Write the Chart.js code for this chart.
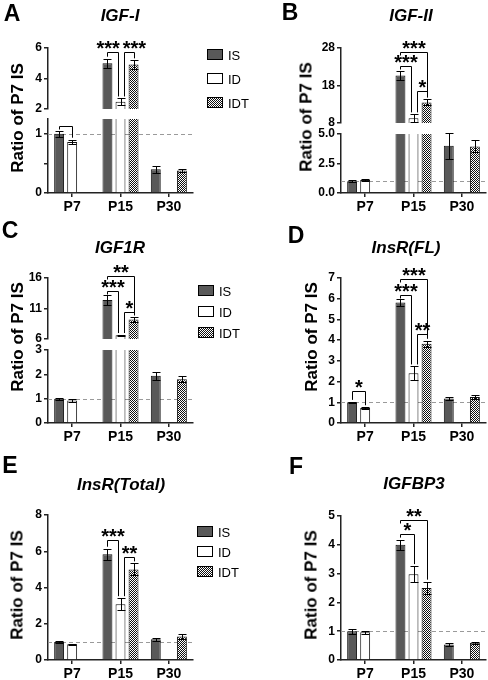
<!DOCTYPE html>
<html>
<head>
<meta charset="utf-8">
<script src="https://cdn.jsdelivr.net/npm/chart.js@4.4.1/dist/chart.umd.min.js"></script>
<style>
  html, body { margin: 0; padding: 0; background: #fff; }
  #fig { position: relative; width: 488px; height: 680px; overflow: hidden;
         font-family: "Liberation Sans", Arial, sans-serif; color: #000; }
  #fig canvas { position: absolute; }
  .txt { position: absolute; white-space: nowrap; line-height: 1; transform: translate(-50%, -50%); }
  .letter { font-weight: bold; font-size: 23px; }
  .gene { font-weight: bold; font-style: italic; font-size: 17px; }
  .ytitle { font-weight: bold; font-size: 17px; transform: translate(-50%, -50%) rotate(-90deg); }
  .legtxt { position: absolute; font-size: 13px; line-height: 1; transform: translateY(-50%); }
  .sw { position: absolute; width: 14px; height: 9px; border: 1px solid #000; }
</style>
</head>
<body>
<div id="fig"></div>
<script>
const categories = ['P7', 'P15', 'P30'];
const seriesNames = ['IS', 'ID', 'IDT'];
const refValue = 1;

// rows = IS, ID, IDT ; columns = P7, P15, P30
// A  IGF-I
const igf1Mean = [[1.0, 5.0, 0.40], [0.86, 2.47, null], [null, 4.92, 0.38]];
const igf1Sem = [[0.05, 0.3, 0.06], [0.04, 0.22, null], [null, 0.27, 0.03]];
const igf1TopTicks = [2, 4, 6];
const igf1LowTicks = [0, 0.5, 1];
const igf1LowLabels = ['0', '', '1'];
// [category, from series, to series, bracket height, label]
const igf1Sig = [[0, 0, 1, 1.14, ''], [1, 0, 1, 5.72, '***'], [1, 1, 2, 5.72, '***']];

// B  IGF-II
const igf2Mean = [[1.0, 20.7, 4.0], [1.1, 9.3, null], [null, 13.5, 3.95]];
const igf2Sem = [[0.1, 1.2, 1.1], [0.06, 1.0, null], [null, 0.8, 0.5]];
const igf2TopTicks = [8, 18, 28];
const igf2LowTicks = [0, 2.5, 5];
const igf2LowLabels = ['0.0', '2.5', '5.0'];
const igf2Sig = [[1, 0, 2, 26.9, '***'], [1, 0, 1, 23.3, '***'], [1, 1, 2, 16.5, '*']];

// C  IGF1R
const igf1rMean = [[1.0, 12.4, 1.94], [0.92, 6.6, null], [null, 9.2, 1.8]];
const igf1rSem = [[0.04, 0.8, 0.17], [0.05, 0.05, null], [null, 0.45, 0.13]];
const igf1rTopTicks = [6, 11, 16];
const igf1rLowTicks = [0, 1, 2, 3];
const igf1rSig = [[1, 0, 2, 16.25, '**'], [1, 0, 1, 13.9, '***'], [1, 1, 2, 10.5, '*']];

// D  InsR(FL)
const insrFlMean = [[1.0, 5.82, 1.18], [0.73, 2.4, null], [null, 3.83, 1.26]];
const insrFlSem = [[0.02, 0.15, 0.07], [0.03, 0.33, null], [null, 0.15, 0.11]];
const insrFlTicks = [0, 1, 2, 3, 4, 5, 6, 7];
const insrFlSig = [[0, 0, 1, 1.55, '*'], [1, 0, 2, 6.97, '***'], [1, 0, 1, 6.2, '***'], [1, 1, 2, 4.28, '**']];

// E  InsR(Total)
const insrTotMean = [[1.0, 5.83, 1.15], [0.87, 3.08, null], [null, 5.0, 1.3]];
const insrTotSem = [[0.04, 0.31, 0.08], [0.03, 0.33, null], [null, 0.33, 0.13]];
const insrTotTicks = [0, 2, 4, 6, 8];
const insrTotSig = [[1, 0, 1, 6.6, '***'], [1, 1, 2, 5.68, '**']];

// F  IGFBP3
const igfbp3Mean = [[1.0, 4.0, 0.54], [0.96, 2.98, null], [null, 2.5, 0.6]];
const igfbp3Sem = [[0.09, 0.18, 0.04], [0.06, 0.28, null], [null, 0.22, 0.04]];
const igfbp3Ticks = [0, 1, 2, 3, 4, 5];
const igfbp3Sig = [[1, 0, 2, 4.86, '**'], [1, 0, 1, 4.36, '*']];

Chart.defaults.font.family = '"Liberation Sans", Arial, sans-serif';

const fig = document.getElementById('fig');

// checkered fill for IDT
const tile = document.createElement('canvas');
tile.width = 2; tile.height = 2;
const tc = tile.getContext('2d');
tc.fillStyle = '#fff'; tc.fillRect(0, 0, 2, 2);
tc.fillStyle = '#111'; tc.fillRect(0, 0, 1, 1); tc.fillRect(1, 1, 1, 1);
const checker = tc.createPattern(tile, 'repeat');
const fills = ['#595959', '#ffffff', checker];

const panels = [
    { letter: 'A', gene: 'IGF-I', col: 0, mean: igf1Mean, sem: igf1Sem, sig: igf1Sig,
      segs: [{ top: 48, bottom: 109, min: 2, max: 6, ticks: igf1TopTicks },
             { top: 119, bottom: 193, min: 0, max: 1.25, ticks: igf1LowTicks, labels: igf1LowLabels }],
      letterAt: [12, 13], geneAt: [120, 15], yTitleAt: [17, 118], legend: [207, 49, 24] },
    { letter: 'B', gene: 'IGF-II', col: 1, mean: igf2Mean, sem: igf2Sem, sig: igf2Sig,
      segs: [{ top: 48, bottom: 123, min: 8, max: 28, ticks: igf2TopTicks },
             { top: 134, bottom: 193, min: 0, max: 5, ticks: igf2LowTicks, labels: igf2LowLabels }],
      letterAt: [290, 12], geneAt: [411, 15], yTitleAt: [306, 117] },
    { letter: 'C', gene: 'IGF1R', col: 0, mean: igf1rMean, sem: igf1rSem, sig: igf1rSig,
      segs: [{ top: 278, bottom: 339, min: 6, max: 16, ticks: igf1rTopTicks },
             { top: 350, bottom: 423, min: 0, max: 3, ticks: igf1rLowTicks }],
      letterAt: [10, 230], geneAt: [120, 247], yTitleAt: [17, 337], legend: [198, 285, 21] },
    { letter: 'D', gene: 'InsR(FL)', col: 1, mean: insrFlMean, sem: insrFlSem, sig: insrFlSig,
      segs: [{ top: 278, bottom: 423, min: 0, max: 7, ticks: insrFlTicks }],
      letterAt: [296, 235], geneAt: [406, 247], yTitleAt: [311, 337] },
    { letter: 'E', gene: 'InsR(Total)', col: 0, mean: insrTotMean, sem: insrTotSem, sig: insrTotSig,
      segs: [{ top: 515, bottom: 660, min: 0, max: 8, ticks: insrTotTicks }],
      letterAt: [10, 465], geneAt: [121, 484], yTitleAt: [17, 585], legend: [197, 526, 20] },
    { letter: 'F', gene: 'IGFBP3', col: 1, mean: igfbp3Mean, sem: igfbp3Sem, sig: igfbp3Sig,
      segs: [{ top: 516, bottom: 660, min: 0, max: 5, ticks: igfbp3Ticks }],
      letterAt: [296, 466], geneAt: [414, 483], yTitleAt: [311, 585] }
];

function addText(cls, text, x, y) {
    const d = document.createElement('div');
    d.className = 'txt ' + cls;
    d.textContent = text;
    d.style.left = x + 'px';
    d.style.top = y + 'px';
    fig.appendChild(d);
    return d;
}

function overlay(panel, seg, isTop) {
    return {
        id: 'overlay',
        beforeDatasetsDraw(chart) {
            const { ctx, chartArea: a, scales: { y } } = chart;
            if (refValue < seg.min || refValue > seg.max) return;
            const py = Math.round(y.getPixelForValue(refValue)) + 0.5;
            ctx.save();
            ctx.strokeStyle = '#9a9a9a';
            ctx.lineWidth = 1;
            ctx.setLineDash([4, 3]);
            ctx.beginPath();
            ctx.moveTo(a.left, py);
            ctx.lineTo(a.right, py);
            ctx.stroke();
            ctx.restore();
        },
        afterDatasetsDraw(chart) {
            const { ctx, chartArea: a, scales: { y } } = chart;

            // error bars
            ctx.save();
            ctx.beginPath();
            ctx.rect(a.left, a.top - 1, a.right - a.left, a.bottom - a.top + 1);
            ctx.clip();
            ctx.strokeStyle = '#000';
            ctx.lineWidth = 1;
            chart.data.datasets.forEach((ds, i) => {
                const meta = chart.getDatasetMeta(i);
                ds.data.forEach((m, j) => {
                    if (m == null) return;
                    const e = ds.sem[j];
                    const x = Math.round(meta.data[j].x) + 0.5;
                    const t = Math.round(y.getPixelForValue(m + e)) + 0.5;
                    const b = Math.round(y.getPixelForValue(m - e)) + 0.5;
                    ctx.beginPath();
                    ctx.moveTo(x, t); ctx.lineTo(x, b);
                    ctx.moveTo(x - 4, t); ctx.lineTo(x + 4, t);
                    ctx.moveTo(x - 4, b); ctx.lineTo(x + 4, b);
                    ctx.stroke();
                });
            });
            ctx.restore();

            // significance brackets
            ctx.save();
            ctx.strokeStyle = '#000';
            ctx.fillStyle = '#000';
            ctx.lineWidth = 1;
            ctx.font = 'bold 20px "Liberation Sans", Arial, sans-serif';
            ctx.textAlign = 'center';
            ctx.textBaseline = 'alphabetic';
            const labels = [];
            panel.sig.forEach(([cat, s1, s2, v, label]) => {
                if (v < seg.min || (v > seg.max && !isTop)) return;
                const y0 = Math.round(y.getPixelForValue(v)) + 0.5;
                // a bar shared by two brackets gets its two legs pulled apart
                const sharedLeft = panel.sig.some(o => o[0] === cat && o[2] === s1);
                const sharedRight = panel.sig.some(o => o[0] === cat && o[1] === s2);
                // left leg stays short when a lower bracket starts from the same bar
                const nestedLeft = panel.sig.some(o => o[0] === cat && o[1] === s1 && o[3] < v);
                const ends = [[s1, sharedLeft ? 3 : 0, nestedLeft], [s2, sharedRight ? -3 : 0, false]].map(([s, dx, short]) => {
                    const el = chart.getDatasetMeta(s).data[cat];
                    const top = panel.mean[s][cat] + panel.sem[s][cat];
                    let ly = Math.min(a.bottom, Math.max(y0 + 3, y.getPixelForValue(top) - 2));
                    if (short) ly = y0 + 3;
                    return [Math.round(el.x + dx) + 0.5, ly];
                });
                ctx.beginPath();
                ctx.moveTo(ends[0][0], ends[0][1]);
                ctx.lineTo(ends[0][0], y0);
                ctx.lineTo(ends[1][0], y0);
                ctx.lineTo(ends[1][0], ends[1][1]);
                ctx.stroke();
                if (label) labels.push({ text: label, x: (ends[0][0] + ends[1][0]) / 2, y: y0, w: ctx.measureText(label).width });
            });
            // push apart labels that sit side by side on the same level
            labels.sort((p, q) => p.x - q.x);
            for (let k = 1; k < labels.length; k++) {
                const p = labels[k - 1], q = labels[k];
                if (Math.abs(p.y - q.y) > 10) continue;
                const overlap = (p.x + p.w / 2 + 3) - (q.x - q.w / 2);
                if (overlap > 0) { p.x -= overlap / 2; q.x += overlap / 2; }
            }
            labels.forEach(l => ctx.fillText(l.text, l.x, l.y + 2));
            ctx.restore();
        }
    };
}

function buildSegment(panel, seg, isTop, isBottom) {
    const colLeft = panel.col ? 244 : 0;
    const axisX = colLeft + (panel.col ? 97 : 48);
    const plotRight = axisX + 145;
    const padTop = isTop ? 30 : 12;
    const padBottom = isBottom ? 0 : 12;
    const xh = isBottom ? 28 : 0;
    const h = seg.bottom - seg.top + padTop + padBottom + xh;

    const canvas = document.createElement('canvas');
    canvas.width = 244; canvas.height = h;
    canvas.style.width = '244px'; canvas.style.height = h + 'px';
    canvas.style.left = colLeft + 'px';
    canvas.style.top = (seg.top - padTop) + 'px';
    fig.appendChild(canvas);

    new Chart(canvas, {
        type: 'bar',
        data: {
            labels: categories,
            datasets: seriesNames.map((name, i) => ({
                label: name,
                data: panel.mean[i],
                sem: panel.sem[i],
                backgroundColor: fills[i],
                borderColor: '#111',
                borderWidth: 1,
                categoryPercentage: 0.81,
                barPercentage: 0.76
            }))
        },
        options: {
            responsive: false,
            animation: false,
            devicePixelRatio: 1,
            layout: { padding: { top: padTop, bottom: padBottom, left: 0, right: colLeft + 244 - plotRight } },
            plugins: { legend: { display: false }, tooltip: { enabled: false } },
            scales: {
                x: {
                    display: isBottom,
                    offset: true,
                    grid: { offset: false, drawOnChartArea: false, tickLength: 4, color: '#222', lineWidth: 1.5 },
                    border: { color: '#222', width: 1.5 },
                    ticks: { color: '#000', padding: 2, font: { size: 14, weight: 'bold' } },
                    afterFit(s) { s.height = xh; }
                },
                y: {
                    min: seg.min,
                    max: seg.max,
                    afterBuildTicks(s) { s.ticks = seg.ticks.map(v => ({ value: v })); },
                    ticks: {
                        color: '#000',
                        padding: 2,
                        font: { size: 12, weight: 'bold' },
                        callback(v, i) { return seg.labels ? seg.labels[i] : String(v); }
                    },
                    grid: { drawOnChartArea: false, tickLength: 4, color: '#222', lineWidth: 1.5 },
                    border: { color: '#222', width: 1.5 },
                    afterFit(s) { s.width = axisX - colLeft; }
                }
            }
        },
        plugins: [overlay(panel, seg, isTop)]
    });
}

panels.forEach(p => {
    p.segs.forEach((seg, k) => buildSegment(p, seg, k === 0, k === p.segs.length - 1));
    addText('letter', p.letter, p.letterAt[0], p.letterAt[1]);
    addText('gene', p.gene, p.geneAt[0], p.geneAt[1]);
    addText('ytitle', 'Ratio of P7 IS', p.yTitleAt[0], p.yTitleAt[1]);

    if (p.legend) {
        const [lx, ly, step] = p.legend;
        seriesNames.forEach((name, i) => {
            const sw = document.createElement('div');
            sw.className = 'sw';
            sw.style.left = lx + 'px';
            sw.style.top = (ly + i * step) + 'px';
            if (i === 2) sw.style.backgroundImage = 'url(' + tile.toDataURL() + ')';
            else sw.style.background = fills[i];
            fig.appendChild(sw);
            const t = document.createElement('div');
            t.className = 'legtxt';
            t.textContent = name;
            t.style.left = (lx + 21) + 'px';
            t.style.top = (ly + i * step + 5.5) + 'px';
            fig.appendChild(t);
        });
    }
});
</script>
</body>
</html>
